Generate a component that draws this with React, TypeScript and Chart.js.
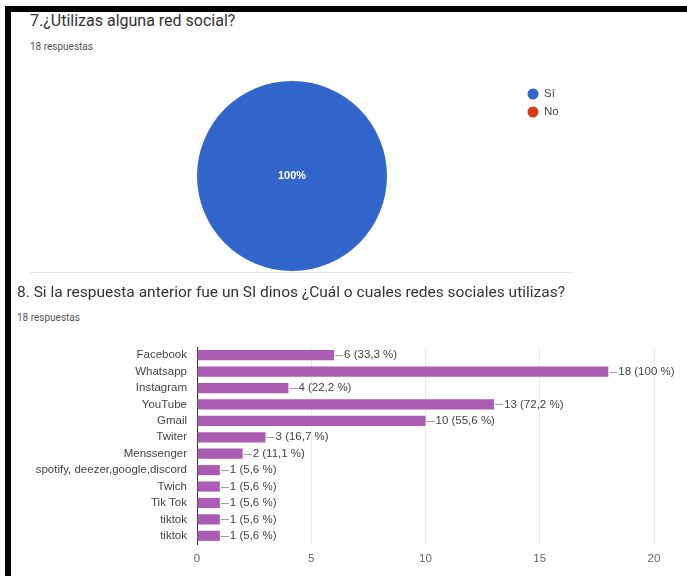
import React, { useEffect, useRef } from 'react';
import { Chart, registerables } from 'chart.js';

Chart.register(...registerables);

const pieLabels = ['Sí', 'No'];
const pieValues = [18, 0];
const pieColors = ['#3366cc', '#dc3912'];

const barCategories = [
  'Facebook',
  'Whatsapp',
  'Instagram',
  'YouTube',
  'Gmail',
  'Twiter',
  'Menssenger',
  'spotify, deezer,google,discord',
  'Twich',
  'Tik Tok',
  'tiktok',
  'tiktok',
];
const barValues = [6, 18, 4, 13, 10, 3, 2, 1, 1, 1, 1, 1];
const totalResponses = 18;
const xTicks = [0, 5, 10, 15, 20];

const chartFont = '"Liberation Sans", Arial, sans-serif';
const titleFont = 'Roboto, "Noto Sans", sans-serif';

const fmtPct = (v: number, total: number) => {
  const p = Math.round((v / total) * 1000) / 10;
  return String(p).replace('.', ',');
};

const pieLabelPlugin = {
  id: 'pieLabel',
  afterDatasetsDraw(chart: any) {
    const ctx = chart.ctx;
    const meta = chart.getDatasetMeta(0);
    const data = chart.data.datasets[0].data as number[];
    const total = data.reduce((a, b) => a + b, 0);
    meta.data.forEach((arc: any, i: number) => {
      const v = data[i];
      if (!v) return;
      let x = arc.x;
      let y = arc.y;
      if (v !== total) {
        const p = arc.tooltipPosition();
        x = p.x;
        y = p.y;
      }
      ctx.save();
      ctx.fillStyle = '#ffffff';
      ctx.font = `bold 11px ${chartFont}`;
      ctx.textAlign = 'center';
      ctx.textBaseline = 'middle';
      ctx.fillText(fmtPct(v, total) + '%', x, y);
      ctx.restore();
    });
  },
};

const pieLegendPlugin = {
  id: 'pieLegend',
  afterDraw(chart: any) {
    const ctx = chart.ctx;
    const labels = chart.data.labels as string[];
    const colors = chart.data.datasets[0].backgroundColor as string[];
    const x0 = 533;
    const y0 = 19;
    labels.forEach((lab, i) => {
      const y = y0 + i * 18;
      ctx.save();
      ctx.fillStyle = colors[i];
      ctx.beginPath();
      ctx.arc(x0, y, 5.5, 0, Math.PI * 2);
      ctx.fill();
      ctx.fillStyle = '#444444';
      ctx.font = `11.5px ${chartFont}`;
      ctx.textAlign = 'left';
      ctx.textBaseline = 'middle';
      ctx.fillText(lab, x0 + 11, y);
      ctx.restore();
    });
  },
};

const barLabelPlugin = {
  id: 'barLabel',
  afterDatasetsDraw(chart: any) {
    const ctx = chart.ctx;
    const meta = chart.getDatasetMeta(0);
    const data = chart.data.datasets[0].data as number[];
    meta.data.forEach((bar: any, i: number) => {
      const v = data[i];
      const text = `${v} (${fmtPct(v, totalResponses)} %)`;
      ctx.save();
      ctx.strokeStyle = '#9e9e9e';
      ctx.lineWidth = 1;
      ctx.beginPath();
      ctx.moveTo(bar.x + 1, Math.round(bar.y) + 0.5);
      ctx.lineTo(bar.x + 9, Math.round(bar.y) + 0.5);
      ctx.stroke();
      ctx.fillStyle = '#444444';
      ctx.font = `11.5px ${chartFont}`;
      ctx.textAlign = 'left';
      ctx.textBaseline = 'middle';
      ctx.fillText(text, bar.x + 10, bar.y);
      ctx.restore();
    });
  },
};

export default function App() {
  const pieRef = useRef<HTMLCanvasElement>(null);
  const barRef = useRef<HTMLCanvasElement>(null);

  useEffect(() => {
    const pie = new Chart(pieRef.current as HTMLCanvasElement, {
      type: 'pie',
      data: {
        labels: pieLabels,
        datasets: [
          {
            data: pieValues,
            backgroundColor: pieColors,
            borderWidth: 0,
          },
        ],
      },
      options: {
        animation: false,
        responsive: false,
        maintainAspectRatio: false,
        layout: { padding: { top: 6, bottom: 4, left: 197, right: 300 } },
        plugins: { legend: { display: false }, tooltip: { enabled: false } },
      },
      plugins: [pieLabelPlugin, pieLegendPlugin],
    } as any);

    const bar = new Chart(barRef.current as HTMLCanvasElement, {
      type: 'bar',
      data: {
        labels: barCategories,
        datasets: [
          {
            data: barValues,
            backgroundColor: '#a95cb1',
            categoryPercentage: 1,
            barPercentage: 0.62,
          },
        ],
      },
      options: {
        indexAxis: 'y',
        animation: false,
        responsive: false,
        maintainAspectRatio: false,
        layout: { padding: { top: 17, right: 33, left: 0, bottom: 0 } },
        plugins: { legend: { display: false }, tooltip: { enabled: false } },
        scales: {
          x: {
            min: 0,
            max: 20,
            afterBuildTicks: (s: any) => {
              s.ticks = xTicks.map((v) => ({ value: v }));
            },
            ticks: { color: '#666666', font: { size: 11.5, family: chartFont }, padding: 8 },
            grid: {
              color: (c: any) => (c.tick && c.tick.value === 0 ? 'rgba(0,0,0,0)' : '#ebebeb'),
              drawTicks: false,
            },
            border: { display: false },
            afterFit: (s: any) => {
              s.height = 32;
            },
          },
          y: {
            ticks: { color: '#444444', font: { size: 11.5, family: chartFont }, padding: 10, autoSkip: false },
            grid: { display: false, drawTicks: false },
            border: { display: true, color: '#333333', width: 1 },
            afterFit: (s: any) => {
              s.width = 197;
            },
          },
        },
      },
      plugins: [barLabelPlugin],
    } as any);

    return () => {
      pie.destroy();
      bar.destroy();
    };
  }, []);

  return (
    <div
      style={{
        position: 'absolute',
        left: 0,
        top: 0,
        width: 687,
        height: 576,
        background: '#ffffff',
        overflow: 'hidden',
      }}
    >
      <div style={{ position: 'absolute', left: 5, top: 6, width: 682, height: 6, background: '#000' }} />
      <div style={{ position: 'absolute', left: 5, top: 6, width: 6, height: 570, background: '#000' }} />

      <div
        style={{
          position: 'absolute',
          left: 30,
          top: 12,
          fontFamily: titleFont,
          fontSize: 16,
          lineHeight: '18px',
          color: '#333333',
          whiteSpace: 'nowrap',
        }}
      >
        7.¿Utilizas alguna red social?
      </div>
      <div
        style={{
          position: 'absolute',
          left: 30,
          top: 41,
          fontFamily: titleFont,
          fontSize: 10,
          lineHeight: '12px',
          color: '#555',
          whiteSpace: 'nowrap',
        }}
      >
        18 respuestas
      </div>

      <canvas
        ref={pieRef}
        width={687}
        height={200}
        style={{ position: 'absolute', left: 0, top: 75, width: 687, height: 200 }}
      />

      <div style={{ position: 'absolute', left: 30, top: 272, width: 543, height: 1, background: '#e6e6e6' }} />

      <div
        style={{
          position: 'absolute',
          left: 17,
          top: 283,
          fontFamily: titleFont,
          fontSize: 15.5,
          lineHeight: '18px',
          color: '#333333',
          whiteSpace: 'nowrap',
        }}
      >
        8. Si la respuesta anterior fue un SI dinos ¿Cuál o cuales redes sociales utilizas?
      </div>
      <div
        style={{
          position: 'absolute',
          left: 17,
          top: 312,
          fontFamily: titleFont,
          fontSize: 10,
          lineHeight: '12px',
          color: '#555',
          whiteSpace: 'nowrap',
        }}
      >
        18 respuestas
      </div>

      <canvas
        ref={barRef}
        width={687}
        height={246}
        style={{ position: 'absolute', left: 0, top: 330, width: 687, height: 246 }}
      />
    </div>
  );
}
